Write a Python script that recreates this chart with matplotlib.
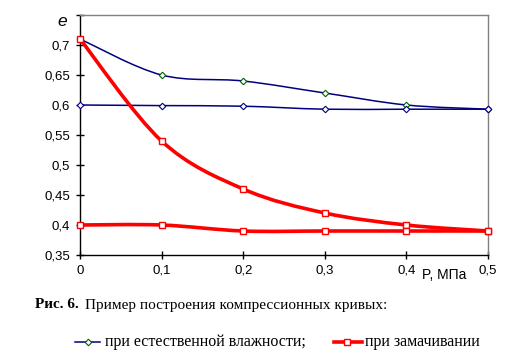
import numpy as np
import matplotlib
matplotlib.use("Agg")
import matplotlib.pyplot as plt
from matplotlib.path import Path
from matplotlib.patches import PathPatch
from matplotlib.lines import Line2D

P = [0.0, 0.1, 0.2, 0.3, 0.4, 0.5]
natural_upper = [0.71, 0.65, 0.64, 0.62, 0.60, 0.593]
natural_lower = [0.60, 0.599, 0.598, 0.593, 0.593, 0.593]
soaked_upper = [0.71, 0.54, 0.46, 0.42, 0.40, 0.39]
soaked_lower = [0.40, 0.40, 0.39, 0.39, 0.39, 0.39]
yticks = [0.35, 0.40, 0.45, 0.50, 0.55, 0.60, 0.65, 0.70, 0.75]
ytick_labels = ['0,35', '0,4', '0,45', '0,5', '0,55', '0,6', '0,65', '0,7', '']
xticks = [0.0, 0.1, 0.2, 0.3, 0.4, 0.5]
xtick_labels = ['0', '0,1', '0,2', '0,3', '0,4', '0,5']

W, H = 514, 363
fig = plt.figure(figsize=(W / 100, H / 100), dpi=100)
L, T, R, B = 80, 15, 488, 255
ax = fig.add_axes([L / W, 1 - B / H, (R - L) / W, (B - T) / H])
ax.set_xlim(0, 0.5)
ax.set_ylim(0.35, 0.75)


def smooth_path(x, y):
    pts = np.column_stack([x, y])
    n = len(pts)
    verts = [pts[0]]
    codes = [Path.MOVETO]
    for i in range(n - 1):
        p0 = pts[i - 1] if i > 0 else pts[i]
        p1 = pts[i]
        p2 = pts[i + 1]
        p3 = pts[i + 2] if i + 2 < n else pts[i + 1]
        c1 = p1 + (p2 - p0) / 6.0
        c2 = p2 - (p3 - p1) / 6.0
        verts += [c1, c2, p2]
        codes += [Path.CURVE4] * 3
    return Path(verts, codes)


navy = '#000080'
red = '#FF0000'
for yy, mec in [(natural_upper, '#006000'), (natural_lower, navy)]:
    ax.add_patch(PathPatch(smooth_path(P, yy), fill=False, edgecolor=navy, lw=1.1, zorder=3))
    ax.plot(P, yy, linestyle='none', marker='D', ms=3.3, mfc='white', mec=mec, mew=0.8, zorder=4,
            clip_on=False)
for yy in [soaked_upper, soaked_lower]:
    ax.add_patch(PathPatch(smooth_path(P, yy), fill=False, edgecolor=red, lw=2.6, zorder=3))
    ax.plot(P, yy, linestyle='none', marker='s', ms=4.3, mfc='white', mec=red, mew=1.0, zorder=4,
            clip_on=False)

for s in ['top', 'right']:
    ax.spines[s].set_color('#808080')
    ax.spines[s].set_linewidth(1.0)
for s in ['left', 'bottom']:
    ax.spines[s].set_color('black')
    ax.spines[s].set_linewidth(1.0)

ax.set_yticks(yticks)
ax.set_yticklabels(ytick_labels)
ax.set_xticks(xticks)
ax.set_xticklabels(xtick_labels)
ax.tick_params(axis='both', direction='inout', length=6, width=1, color='black',
               labelsize=9.5, pad=4)
for lab in ax.get_xticklabels() + ax.get_yticklabels():
    lab.set_family('Liberation Sans')

fig.text(62 / W, 1 - 22 / H, 'e', fontsize=12.5, style='italic', family='Liberation Sans',
         ha='center', va='center')
fig.text(444 / W, 1 - 275 / H, 'P, МПа', fontsize=10, family='Liberation Sans',
         ha='center', va='center')

fig.text(35 / W, 1 - 305 / H, 'Рис. 6.', fontsize=11, weight='bold', family='Liberation Serif',
         ha='left', va='center')
fig.text(85 / W, 1 - 305 / H, 'Пример построения компрессионных кривых:', fontsize=11,
         family='Liberation Serif', ha='left', va='center')

ly = 1 - 342 / H
fig.add_artist(Line2D([75 / W, 100 / W], [ly, ly], color=navy, lw=1.1))
fig.add_artist(Line2D([87.5 / W], [ly], marker='D', ms=3.3, mfc='white', mec='#006000', mew=0.8,
                      linestyle='none'))
fig.text(105 / W, ly, 'при естественной влажности;', fontsize=11.5, family='Liberation Serif',
         ha='left', va='center')
fig.add_artist(Line2D([334 / W, 362 / W], [ly, ly], color=red, lw=2.6))
fig.add_artist(Line2D([347 / W], [ly], marker='s', ms=4.3, mfc='white', mec=red, mew=1.0,
                      linestyle='none'))
fig.text(365 / W, ly, 'при замачивании', fontsize=11.5, family='Liberation Serif',
         ha='left', va='center')

fig.savefig('out.png', dpi=100)
